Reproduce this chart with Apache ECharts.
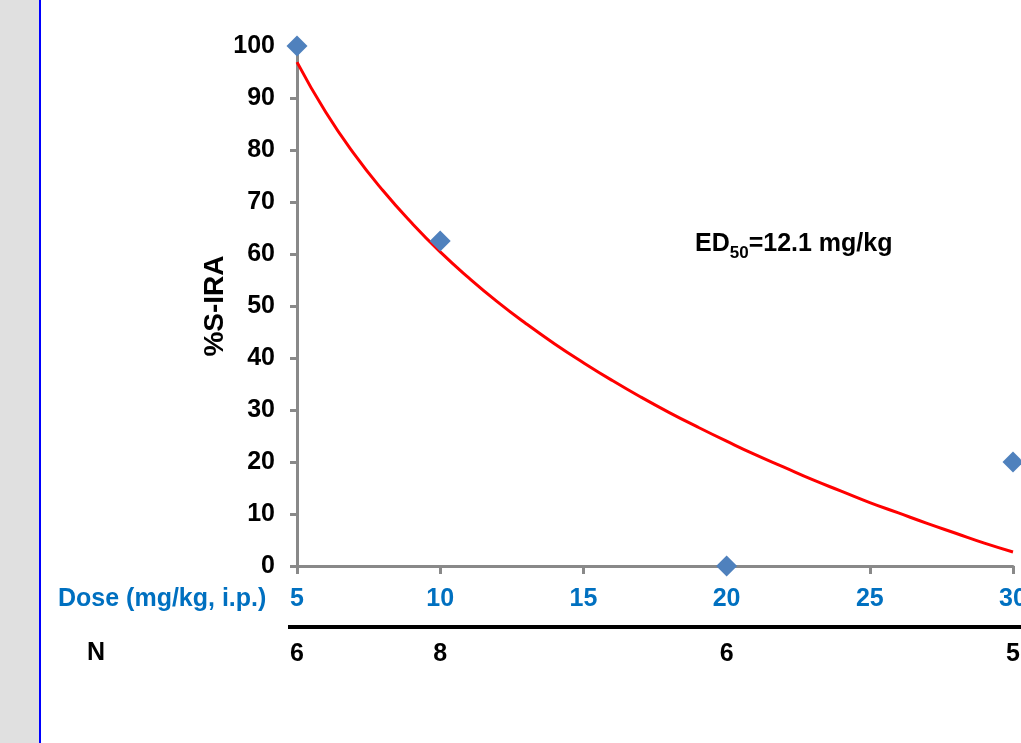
<!DOCTYPE html>
<html>
<head>
<meta charset="utf-8">
<script src="https://cdn.jsdelivr.net/npm/echarts@6/dist/echarts.min.js"></script>
<style>
  html, body { margin: 0; padding: 0; background: #ffffff; }
  #chart { width: 1021px; height: 743px; }
</style>
</head>
<body>
<div id="chart"></div>
<script>
// measured points (dose, %S-IRA)
var doses = [5, 10, 20, 30]
var sira = [100, 62.5, 0, 20]
// animals per dose
var nAnimals = [6, 8, 6, 5]

// fitted curve, dose 5..30 step 1
var curveDoses = [5, 6, 7, 8, 9, 10, 11, 12, 13, 14, 15, 16, 17, 18, 19, 20, 21, 22, 23, 24, 25, 26, 27, 28, 29, 30]
var curveValues = [96.9, 87.3, 79.2, 72.2, 66.0, 60.4, 55.4, 50.8, 46.6, 42.7, 39.1, 35.7, 32.5, 29.5, 26.7, 24.0, 21.4, 19.0, 16.6, 14.4, 12.2, 10.2, 8.2, 6.3, 4.4, 2.7]

var font = "'Liberation Sans', Arial, sans-serif"
var grey = '#898989'

var chart = echarts.init(document.getElementById('chart'))

var nByDose = {}
doses.forEach(function (d, i) { nByDose[d] = nAnimals[i] })

var options = {
  animation: false,
  backgroundColor: '#ffffff',
  grid: {
    left: 297,
    right: 8,
    top: 46,
    bottom: 177,
    outerBoundsMode: 'none'
  },
  xAxis: [
    {
      type: 'value',
      min: 5,
      max: 30,
      interval: 5,
      axisLine: { lineStyle: { color: grey, width: 3 } },
      axisTick: { show: true, length: 8, lineStyle: { color: grey, width: 3 } },
      axisLabel: {
        margin: 21,
        color: '#0070c0',
        fontFamily: font,
        fontWeight: 'bold',
        fontSize: 25
      },
      splitLine: { show: false }
    },
    {
      // N row under the dose axis
      type: 'value',
      position: 'bottom',
      offset: 76,
      min: 5,
      max: 30,
      interval: 5,
      axisLine: { show: false },
      axisTick: { show: false },
      axisLabel: {
        margin: 0,
        color: '#000000',
        fontFamily: font,
        fontWeight: 'bold',
        fontSize: 25,
        formatter: function (v) {
          return nByDose[v] != null ? String(nByDose[v]) : ''
        }
      },
      splitLine: { show: false }
    }
  ],
  yAxis: {
    type: 'value',
    min: 0,
    max: 100,
    interval: 10,
    name: '%S-IRA',
    nameLocation: 'middle',
    nameRotate: 90,
    nameGap: 68,
    nameMoveOverlap: false,
    nameTextStyle: {
      color: '#000000',
      fontFamily: font,
      fontWeight: 'bold',
      fontSize: 28
    },
    axisLine: { show: true, lineStyle: { color: grey, width: 3 } },
    axisTick: { show: true, length: 7, lineStyle: { color: grey, width: 3 } },
    axisLabel: {
      margin: 22,
      color: '#000000',
      fontFamily: font,
      fontWeight: 'bold',
      fontSize: 25
    },
    splitLine: { show: false }
  },
  series: [
    {
      name: 'fit',
      type: 'line',
      smooth: true,
      showSymbol: false,
      z: 2,
      lineStyle: { color: '#ff0000', width: 3 },
      data: curveDoses.map(function (d, i) { return [d, curveValues[i]] })
    },
    {
      name: 'data',
      type: 'scatter',
      symbol: 'diamond',
      symbolSize: 21,
      z: 3,
      itemStyle: { color: '#4f81bd', opacity: 1 },
      data: doses.map(function (d, i) { return [d, sira[i]] })
    }
  ],
  graphic: [
    // grey page strip + blue border on the left
    { type: 'rect', left: 0, top: 0, shape: { width: 39, height: 743 }, style: { fill: '#e0e0e0' } },
    { type: 'rect', left: 39, top: 0, shape: { width: 2, height: 743 }, style: { fill: '#0000ff' } },
    // black separator line above N row
    { type: 'rect', left: 288, top: 625, shape: { width: 733, height: 4 }, style: { fill: '#000000' } },
    {
      type: 'text',
      left: 58,
      top: 587,
      style: {
        text: 'Dose (mg/kg, i.p.)',
        fill: '#0070c0',
        font: 'bold 25px ' + font
      }
    },
    {
      type: 'text',
      left: 87,
      top: 641,
      style: {
        text: 'N',
        fill: '#000000',
        font: 'bold 25px ' + font
      }
    },
    {
      type: 'text',
      left: 695,
      top: 232,
      style: {
        text: '{a|ED}{b|50}{a|=12.1 mg/kg}',
        rich: {
          a: { fontFamily: font, fontWeight: 'bold', fontSize: 25, fill: '#000000', verticalAlign: 'bottom' },
          b: { fontFamily: font, fontWeight: 'bold', fontSize: 17, fill: '#000000', verticalAlign: 'bottom', padding: [0, 0, -5, 0] }
        }
      }
    }
  ]
}

chart.setOption(options)
</script>
</body>
</html>
